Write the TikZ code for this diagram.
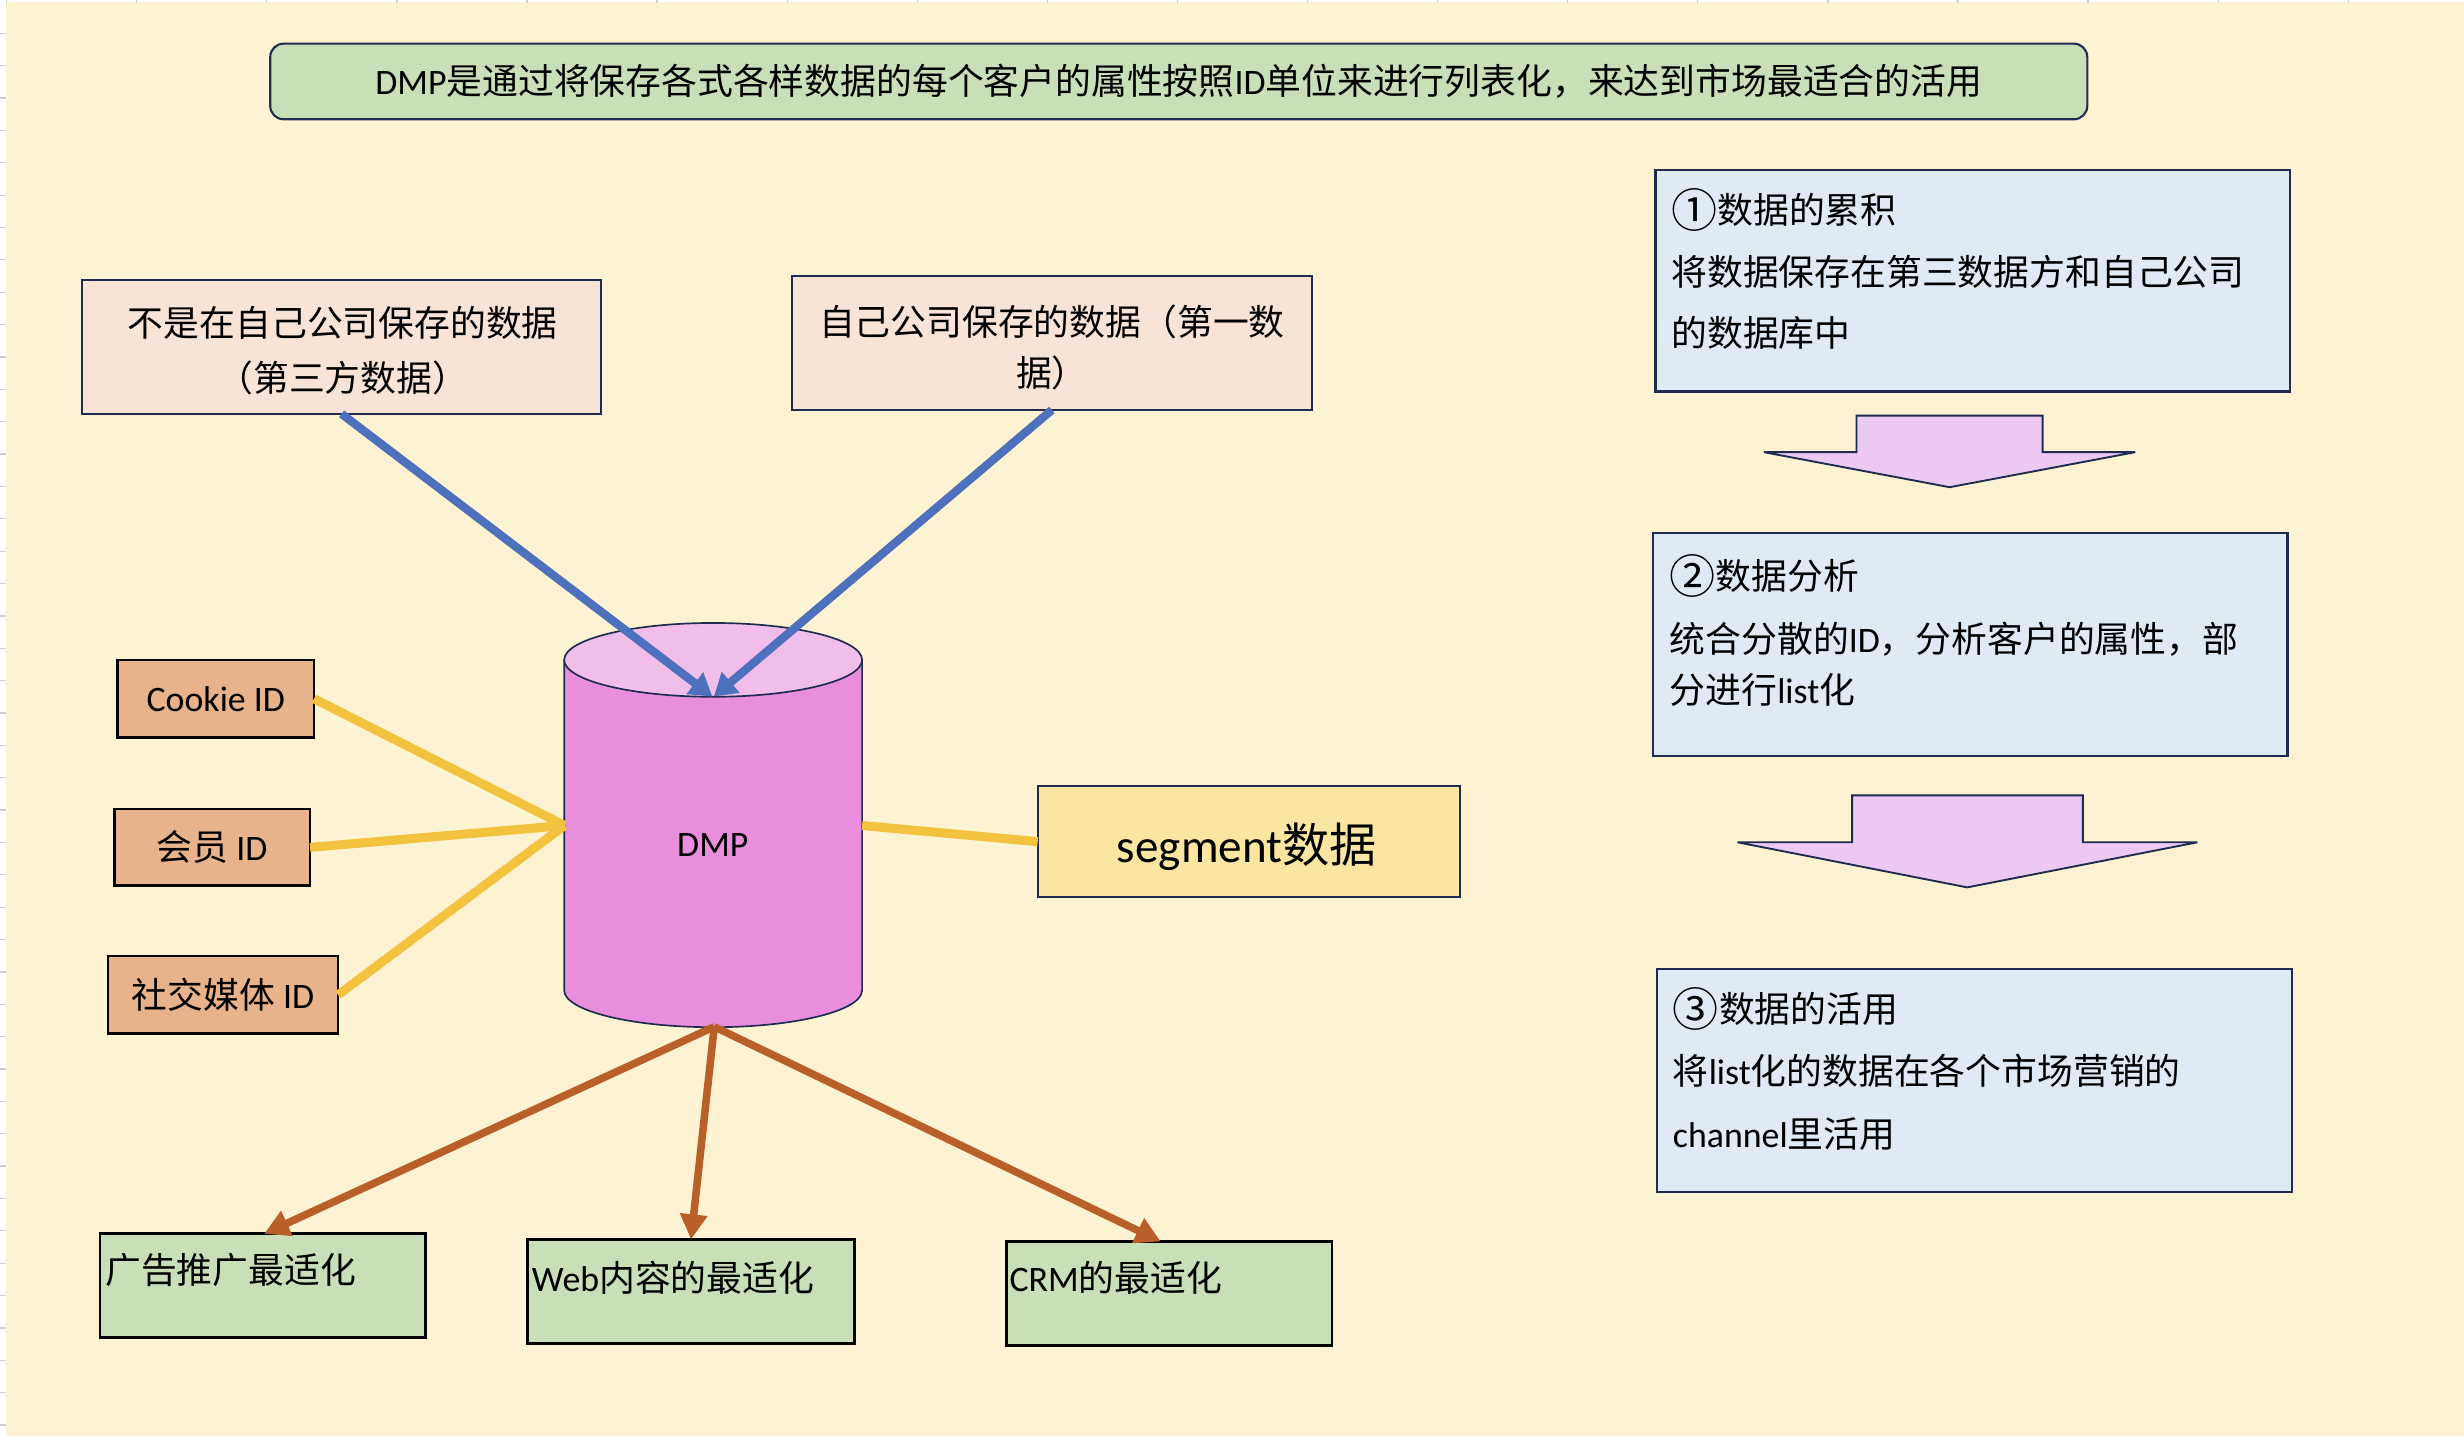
\documentclass[tikz,border=0pt]{standalone}
\usepackage{fontspec}
\setmainfont{Noto Sans CJK SC}
\newfontfamily\latf{Carlito}
\newcommand\ltn[1]{{\latf #1}}
\newcommand\circnum[1]{\raisebox{-1.8pt}{\fontsize{22pt}{20pt}\selectfont #1}}
\usetikzlibrary{arrows.meta}
\definecolor{bg}{HTML}{FDF3D2}
\definecolor{navy}{HTML}{1F2C4F}
\definecolor{titlegreen}{HTML}{C9DFB8}
\definecolor{peach}{HTML}{F7E4D7}
\definecolor{idfill}{HTML}{E8B38A}
\definecolor{cylbody}{HTML}{E98EDC}
\definecolor{cyltop}{HTML}{F1BEEA}
\definecolor{segfill}{HTML}{FAE6A0}
\definecolor{stepfill}{HTML}{DFEAF5}
\definecolor{arrowfill}{HTML}{ECC9F0}
\definecolor{blueline}{HTML}{4E71BE}
\definecolor{yellowline}{HTML}{F3C23F}
\definecolor{brownline}{HTML}{B9602A}
\definecolor{tickgray}{HTML}{CFCFCF}
\begin{document}
\begin{tikzpicture}[x=0.75pt,y=-0.75pt,
  every node/.style={inner sep=0pt, outer sep=0pt, text=black, font=\fontsize{17.1pt}{20pt}\selectfont},
  navybox/.style={draw=navy, line width=1pt},
  blackbox/.style={draw=black, line width=1.3pt},
  linetext/.style={anchor=base west},
  bluearrow/.style={draw=blueline, line width=4pt, -{Triangle[length=10.5pt,width=12.5pt]}},
  yellowlink/.style={draw=yellowline, line width=4.3pt},
  brownarrow/.style={draw=brownline, line width=3.6pt, -{Triangle[length=12pt,width=12.5pt]}},
  blockarrow/.style={fill=arrowfill, draw=navy, line width=0.9pt, line join=miter},
]
% background
\useasboundingbox (0,0) rectangle (1568.3,914);
\fill[bg] (0,0) rectangle (1568.3,914);
\fill[white] (0,0) rectangle (3.8,914);
\fill[white] (0,0) rectangle (1568.3,1.3);
\foreach \k in {0,...,18} \draw[tickgray, line width=0.6pt] ({4.2+82.8*\k},0) -- ++(0,2);
\foreach \k in {1,...,44} \draw[tickgray, line width=0.6pt] (0,{0.6+20.6*\k}) -- ++(3.8,0);

% title
\node[navybox, fill=titlegreen, rounded corners=6.4pt, minimum width=867.4pt, minimum height=36.1pt] (title) at (750.25,51.85)
  {\ltn{DMP}是通过将保存各式各样数据的每个客户的属性按照\ltn{ID}单位来进行列表化，来达到市场最适合的活用};

% data sources
\node[navybox, fill=peach, minimum width=247.8pt, minimum height=63.9pt] (tp) at (217.4,220.8) {};
\node[align=center, font=\fontsize{17.1pt}{26.25pt}\selectfont] (tptext) at (218.2,223.2) {不是在自己公司保存的数据\\（第三方数据）};
\node[navybox, fill=peach, minimum width=248.25pt, minimum height=64pt] (fp) at (669.5,218.25) {};
\node[align=center, font=\fontsize{17.1pt}{24.75pt}\selectfont] (fptext) at (669.5,221.15) {自己公司保存的数据（第一数\\据）};

% ID boxes
\node[blackbox, fill=idfill, minimum width=93.7pt, minimum height=37pt] (cookie) at (137.35,444.7) {\ltn{Cookie ID}};
\node[blackbox, fill=idfill, minimum width=93.45pt, minimum height=36.7pt] (member) at (135,539.35) {会员\ltn{ ID}};
\node[blackbox, fill=idfill, minimum width=109.9pt, minimum height=37.2pt] (social) at (141.95,633.2) {社交媒体\ltn{ ID}};

% DMP cylinder
\fill[cylbody] (359.1,420) -- (359.1,630.3) arc[start angle=180, end angle=360, x radius=71.1pt, y radius=17.625pt] -- (548.7,420) -- cycle;
\draw[navy, line width=0.8pt] (359.1,420) -- (359.1,630.3) arc[start angle=180, end angle=360, x radius=71.1pt, y radius=17.625pt] -- (548.7,420);
\filldraw[fill=cyltop, draw=navy, line width=0.8pt] (453.9,420) ellipse [x radius=71.1pt, y radius=17.625pt];
\node (dmp) at (453.7,537.7) {\ltn{DMP}};
\coordinate (dmpW) at (359.3,525.4);
\coordinate (dmpE) at (548.7,525.4);
\coordinate (dmpS) at (454.6,653.5);
\coordinate (dmpTopA) at (453.4,443.3);
\coordinate (dmpTopB) at (454.4,443.3);

% segment
\node[navybox, fill=segfill, minimum width=201.4pt, minimum height=53.25pt] (seg) at (794.75,535.7) {};
\node[font=\fontsize{22.5pt}{26pt}\selectfont] (segtext) at (793.5,538.8) {\ltn{segment}数据};

% bottom boxes
\node[blackbox, fill=titlegreen, minimum width=155.55pt, minimum height=49.65pt] (ad) at (167.3,818.4) {};
\node[linetext] (adtext) at (67,816.9) {广告推广最适化};
\node[blackbox, fill=titlegreen, minimum width=156pt, minimum height=49.8pt] (web) at (439.8,822.1) {};
\node[linetext] (webtext) at (338.6,822.2) {\ltn{Web}内容的最适化};
\node[blackbox, fill=titlegreen, minimum width=155.55pt, minimum height=49.8pt] (crm) at (744.1,823.4) {};
\node[linetext] (crmtext) at (642.6,822.2) {\ltn{CRM}的最适化};

% right steps
\node[navybox, fill=stepfill, minimum width=302.7pt, minimum height=105.75pt] (s1) at (1255.5,178.7) {};
\node[linetext] (s1a) at (1063.8,142.3) {\circnum{①}数据的累积};
\node[linetext] (s1b) at (1063.8,181.6) {将数据保存在第三数据方和自己公司};
\node[linetext] (s1c) at (1063.8,220.8) {的数据库中};

\node[navybox, fill=stepfill, minimum width=302.8pt, minimum height=106.1pt] (s2) at (1254.05,410.25) {};
\node[linetext] (s2a) at (1062.8,375.2) {\circnum{②}数据分析};
\node[linetext] (s2b) at (1062.8,415) {统合分散的\ltn{ID}，分析客户的属性，部};
\node[linetext] (s2c) at (1062.8,447.7) {分进行\ltn{list}化};

\node[navybox, fill=stepfill, minimum width=302.9pt, minimum height=106.2pt] (s3) at (1256.65,687.8) {};
\node[linetext] (s3a) at (1064.8,650.7) {\circnum{③}数据的活用};
\node[linetext] (s3b) at (1064.8,690.5) {将\ltn{list}化的数据在各个市场营销的};
\node[linetext] (s3c) at (1064.8,730.3) {\ltn{channel}里活用};

% block arrows
\draw[blockarrow] (1181.6,264.5) -- (1300.1,264.5) -- (1300.1,287.8) -- (1359,287.8) -- (1240.9,310.1) -- (1122.7,287.8) -- (1181.6,287.8) -- cycle;
\draw[blockarrow] (1178.8,506.2) -- (1325.7,506.2) -- (1325.7,536.1) -- (1398.6,536.1) -- (1252.1,564.8) -- (1105.9,536.1) -- (1178.8,536.1) -- cycle;

% connectors
\draw[bluearrow] (tp.south) -- (dmpTopA);
\draw[bluearrow] (fp.south) -- (dmpTopB);
\draw[yellowlink] (cookie.east) -- (dmpW);
\draw[yellowlink] (member.east) -- (dmpW);
\draw[yellowlink] (social.east) -- (dmpW);
\draw[yellowlink] (dmpE) -- (seg.west);
\draw[brownarrow] (dmpS) -- ([xshift=0.6pt]ad.north);
\draw[brownarrow] (dmpS) -- (web.north);
\draw[brownarrow] (dmpS) -- ([xshift=-4pt]crm.north);
\end{tikzpicture}
\end{document}
